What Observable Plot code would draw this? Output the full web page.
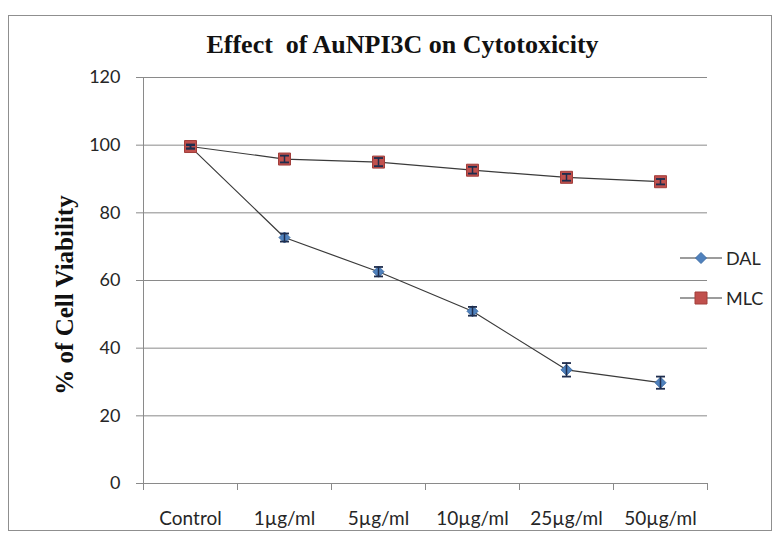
<!DOCTYPE html>
<html><head><meta charset="utf-8">
<script src="https://cdn.jsdelivr.net/npm/d3@7"></script>
<script src="https://cdn.jsdelivr.net/npm/@observablehq/plot@0.6"></script>
<style>
body{margin:0;background:#fff;overflow:hidden}
#wrap{position:relative;width:777px;height:538px;overflow:hidden}
#frame{position:absolute;left:8px;top:15px;width:764px;height:516px;border:1px solid #8f8f8f;box-sizing:border-box}
#title{position:absolute;left:14px;width:777px;top:30px;line-height:30px;text-align:center;font:bold 26px "Liberation Serif",serif;white-space:pre;color:#111}
#ytitle{position:absolute;left:65px;top:295px;transform:translate(-50%,-50%) rotate(-90deg);font:bold 25px "Liberation Serif",serif;white-space:nowrap;color:#111}
#chart{position:absolute;left:0;top:60px}
.leg{position:absolute;left:680px;height:20px;display:flex;align-items:center;font:18px Lato,sans-serif;color:#262626}
.leg svg{margin-right:4px}
</style></head>
<body><div id="wrap">
<div id="frame"></div>
<div id="title">Effect  of AuNPI3C on Cytotoxicity</div>
<div id="ytitle">% of Cell Viability</div>
<div id="chart"></div>
</div>
<script>
const categories = ["Control", "1µg/ml", "5µg/ml", "10µg/ml", "25µg/ml", "50µg/ml"];
const seriesNames = ["DAL", "MLC"];
const dalValues = [99.5, 72.7, 62.6, 50.9, 33.6, 29.8];
const dalErrors = [0.5, 1.2, 1.4, 1.3, 2.0, 1.8];
const mlcValues = [99.6, 95.9, 95.0, 92.6, 90.5, 89.2];
const mlcErrors = [0.6, 1.0, 1.2, 1.0, 1.0, 0.8];
const yTicks = [0, 20, 40, 60, 80, 100, 120];

const colors = {DAL: {fill: "#4f81bd", stroke: "#3f6ea6"}, MLC: {fill: "#c0504d", stroke: "#a23e3b"}};

const rows = [];
categories.forEach((c, i) => {
  rows.push({series: "DAL", cat: c, idx: i, value: dalValues[i], err: dalErrors[i]});
  rows.push({series: "MLC", cat: c, idx: i, value: mlcValues[i], err: mlcErrors[i]});
});

const diamond = {draw(ctx, size) { const r = Math.sqrt(size / Math.PI); ctx.moveTo(0, -r); ctx.lineTo(r, 0); ctx.lineTo(0, r); ctx.lineTo(-r, 0); ctx.closePath(); }};
const square = {draw(ctx, size) { const r = Math.sqrt(size / Math.PI); ctx.moveTo(-r, -r); ctx.lineTo(r, -r); ctx.lineTo(r, r); ctx.lineTo(-r, r); ctx.closePath(); }};
const cap = {draw(ctx, size) { const r = Math.sqrt(size / Math.PI); ctx.moveTo(-r, 0); ctx.lineTo(r, 0); }};
const symbols = {DAL: diamond, MLC: square};
const radii = {DAL: 5.5, MLC: 6};

const gridColor = "#8a8a8a";
const n = categories.length;

const marks = [
  Plot.gridY(yTicks.filter(v => v > 0), {stroke: gridColor, strokeOpacity: 1}),
  Plot.ruleY([0], {stroke: gridColor}),
  Plot.ruleX([-0.5], {y1: 0, y2: 120, stroke: gridColor}),
  Plot.axisY(yTicks, {tickSize: 7, tickPadding: 16, stroke: gridColor, fill: "#262626", fontSize: 18, label: null}),
  Plot.axisX(d3.range(-0.5, n, 1), {tickSize: 7, tickFormat: () => "", stroke: gridColor, label: null}),
  Plot.axisX(d3.range(0, n), {tickSize: 0, tickPadding: 28, tickFormat: i => categories[i], fill: "#262626", fontSize: 19, label: null}),
  Plot.line(rows, {x: "idx", y: "value", z: "series", stroke: "#3a3a3a", strokeWidth: 1.2})
];
for (const s of seriesNames) {
  const data = rows.filter(d => d.series === s);
  marks.push(Plot.dot(data, {x: "idx", y: "value", symbol: symbols[s], r: radii[s], fill: colors[s].fill, stroke: colors[s].stroke, strokeWidth: 1}));
}
marks.push(Plot.ruleX(rows, {x: "idx", y1: d => d.value - d.err, y2: d => d.value + d.err, stroke: "#1f2d4d", strokeWidth: 1.5}));
marks.push(Plot.dot(rows, {x: "idx", y: d => d.value + d.err, symbol: cap, r: 4.5, stroke: "#1f2d4d", strokeWidth: 1.8}));
marks.push(Plot.dot(rows, {x: "idx", y: d => d.value - d.err, symbol: cap, r: 4.5, stroke: "#1f2d4d", strokeWidth: 1.8}));

const chart = Plot.plot({
  width: 777, height: 478,
  marginLeft: 143, marginRight: 70, marginTop: 17, marginBottom: 55,
  x: {type: "linear", domain: [-0.5, n - 0.5]},
  y: {domain: [0, 120]},
  style: {fontFamily: "Lato, sans-serif", color: "#262626", background: "transparent", overflow: "visible"},
  marks
});
document.getElementById("chart").append(chart);

// legend built from the series
const legendTops = {DAL: 248, MLC: 288};
const wrap = document.getElementById("wrap");
for (const s of seriesNames) {
  const div = document.createElement("div");
  div.className = "leg";
  div.style.top = legendTops[s] + "px";
  const ns = "http://www.w3.org/2000/svg";
  const svg = document.createElementNS(ns, "svg");
  svg.setAttribute("width", 42); svg.setAttribute("height", 20);
  const ln = document.createElementNS(ns, "line");
  ln.setAttribute("x1", 0); ln.setAttribute("x2", 42); ln.setAttribute("y1", 10); ln.setAttribute("y2", 10);
  ln.setAttribute("stroke", "#3a3a3a"); ln.setAttribute("stroke-width", 1.2);
  svg.append(ln);
  const p = d3.path();
  const r = radii[s];
  symbols[s].draw(p, r * r * Math.PI);
  const path = document.createElementNS(ns, "path");
  path.setAttribute("d", p.toString());
  path.setAttribute("transform", "translate(21,10)");
  path.setAttribute("fill", colors[s].fill); path.setAttribute("stroke", colors[s].stroke);
  svg.append(path);
  div.append(svg);
  const t = document.createElement("span");
  t.textContent = s;
  div.append(t);
  wrap.append(div);
}
</script>
</body></html>
